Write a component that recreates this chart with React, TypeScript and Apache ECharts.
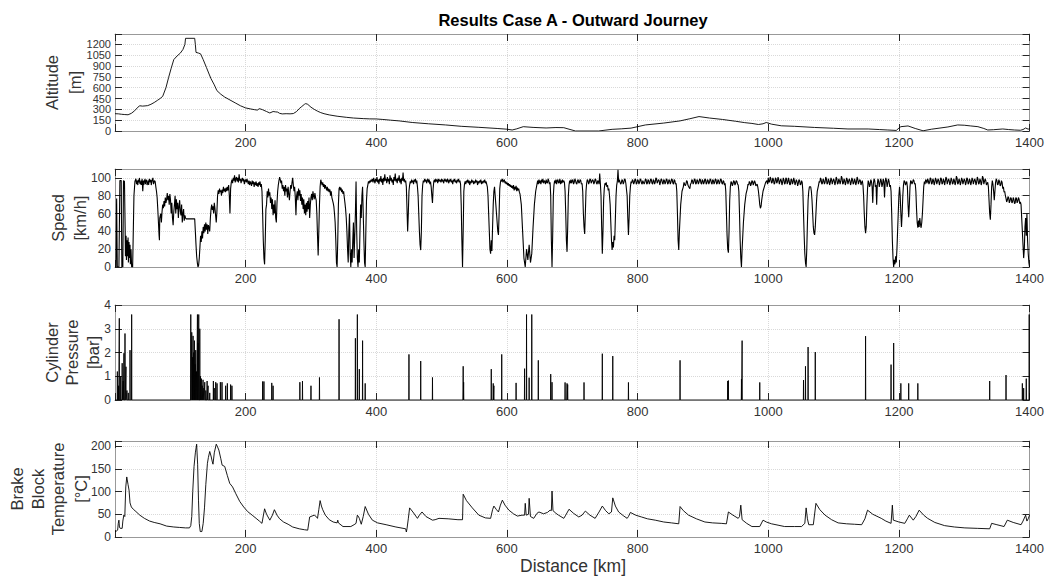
import React, { useEffect, useRef } from "react";
import * as echarts from "echarts";

const FONT = "'Liberation Sans', Arial, Helvetica, sans-serif";

const titleText = "Results Case A - Outward Journey";
const xName = "Distance [km]";
const yNames: string[][] = [
  ["Altitude", "[m]"],
  ["Speed", "[km/h]"],
  ["Cylinder", "Pressure", "[bar]"],
  ["Brake", "Block", "Temperature", "[°C]"],
];

const xMin = 0;
const xMax = 1400;
const xInterval = 200;

const yMins = [0, 0, 0, 0];
const yMaxs = [1345, 110, 4, 211];
const yIntervals = [150, 20, 1, 50];

const altitude: [number, number][] = [
  [0,240],[5,238],[10,232],[15,228],[20,225],[25,245],[30,280],[35,330],[38,350],[42,345],[46,348],[50,352],[55,370],[60,395],[65,425],[69,450],[73,480],[78,600],[82,740],[86,870],[90,990],[95,1040],[100,1080],[104,1130],[107,1200],[108,1285],[122,1285],[123,1200],[124,1090],[128,1080],[131,1070],[135,990],[140,880],[144,790],[147,725],[152,640],[156,560],[162,510],[168,470],[176,430],[184,390],[192,350],[200,320],[208,305],[214,295],[218,290],[221,310],[226,295],[232,270],[237,250],[242,270],[246,265],[249,262],[252,245],[256,237],[262,240],[268,238],[273,242],[278,270],[282,310],[286,340],[290,370],[292,380],[295,370],[300,330],[305,300],[310,275],[315,255],[320,240],[328,223],[340,205],[354,190],[365,180],[380,172],[390,168],[400,167],[410,160],[422,150],[435,140],[455,118],[480,100],[506,84],[530,65],[557,51],[585,35],[600,25],[608,14],[615,30],[625,60],[640,50],[660,42],[675,48],[687,46],[695,25],[705,0],[740,0],[761,23],[775,30],[790,40],[812,84],[840,110],[865,140],[880,170],[894,200],[910,180],[930,160],[950,135],[964,116],[975,105],[985,90],[992,100],[997,118],[1005,95],[1020,72],[1040,65],[1071,49],[1100,38],[1122,28],[1153,28],[1170,20],[1183,14],[1196,8],[1200,40],[1203,60],[1214,70],[1225,35],[1237,3],[1250,25],[1275,56],[1290,84],[1300,80],[1310,70],[1321,60],[1330,35],[1336,14],[1345,18],[1359,28],[1368,20],[1377,14],[1386,10],[1390,20],[1394,42],[1398,25],[1400,35],
];

const speed: [number, number][] = [
  [0,0],[1.5,0],[2.5,77],[3.5,0],[6,0],[7.5,97],[9.5,97],[10.5,0],[12,0],[13,97],[14.5,96],[15.5,45],[16,12],[17,35],[17.5,8],[18.5,30],[19,12],[20,33],[20.5,5],[21.5,28],[22,10],[23,25],[23.5,3],[24.5,20],[25.5,0],[27,0],[29,80],[30.5,96],
  [32,99],[33,93],[33.5,97],[35,92],[35.5,98],[36,95],[37.5,100],[38,94],[39,93],[40,97],[40.5,92],[41.5,99],[42.5,85],[43.5,97],[44,92],[44.5,95],[46,99],[46.5,93],[47,96],[48.5,98],[49,92],[50,94],[51,97],[51.5,92],[52.5,99],[54,95],[55,98],[55.5,92],[56.5,96],[58,100],[59,93],[60.5,97],[61.5,96],
  [62.5,90],[63.5,85],[64.5,78],[65.5,65],[66.5,50],[67.5,35],[68,30],[68.5,55],[70,60],[71,50],[72,62],[73,70],[74,66],[75,74],[76,68],[77,78],[78,72],[79,76],[80,83],[81,75],[82,80],[83,70],[84,82],[85,75],[86,60],[87,72],[88,55],[89,47],[90,62],[91,70],[92,80],[93,60],[94,76],[95,65],[96,72],[97,55],[98,68],[99,75],[100,62],[101,58],[102,70],[103,50],[104,60],[105,65],[106,52],[107,58],[108,55],[109,54],[122,54],
  [123,40],[124,25],[125,12],[126,5],[127,0],[128,2],[129,10],[130,22],[131,35],[132,28],[133,40],[134,32],[135,45],[136,38],[137,48],[138,40],[139,50],[140,42],[141,48],[142,37],[143,47],[144,44],[145,40],[146,55],[147,65],[148,70],[149,64],[150,68],[151,60],[152,72],[153,66],[154,58],[155,50],[156,62],[157,80],[158,86],[159,82],[160,88],[161,84],[162,86],[163,80],[164,87],[165,83],[166,90],[167,85],[168,88],[169,84],[170,89],[171,85],[172,90],[173,86],[174,92],[175,80],[176,60],[177,88],[178,95],[179,98],[180,94],[181,100],[182,97],[183,103],[184,95],[185,99],[186,101],[187,96],[188,100],[189,95],[190,104],[191,97],[192,99],[193,94],[194,98],[195,100],[196,96],[197,99],[198,93],[199,97],[200,98],[201,95],[202,99],[203,96],[204,93],[205,97],[206,92],[207,96],[208,94],[209,91],[210,97],[211,93],[212,96],[213,90],[214,95],[215,92],[216,96],[217,91],[218,94],[219,90],[220,95],[221,92],[222,96],[223,90],[224,93],
  [225,85],[226,60],[227,30],[228,10],[229,3],[230,30],[231,65],[232,70],[233,85],[234,78],[235,88],[236,80],[237,84],[238,72],[239,78],[240,65],[241,76],[242,58],[243,70],[244,60],[245,75],[246,55],[247,50],[248,72],[249,85],[250,92],[251,97],[252,101],[253,98],[254,94],[255,97],[256,88],[257,92],[258,85],[259,90],[260,80],[261,92],[262,85],[263,88],[264,78],[265,90],[266,82],[267,75],[268,85],[269,92],[270,88],[271,95],[272,100],[273,92],[274,85],[275,90],[276,78],[277,58],[278,80],[279,85],[280,75],[281,88],[282,80],[283,86],[284,74],[285,82],[286,70],[287,78],[288,65],[289,76],[290,60],[291,70],[292,58],[293,72],[294,62],[295,74],[296,65],[297,78],[298,55],[299,70],[300,78],[301,82],[302,75],[303,85],[304,80],[305,76],[306,83],[307,78],
  [308,75],[309,60],[310,35],[311,13],[312,40],[313,70],[314,90],[315,98],[316,95],[317,92],[318,95],[319,90],[320,93],[321,88],[322,92],[323,89],[324,86],[325,90],[326,85],[327,88],[328,84],[329,87],[330,80],[331,85],[332,78],
  [333,78],[334,72],[335,68],[336,60],[337,50],[338,30],[339,5],[340,0],[341,30],[342,70],[343,88],[344,90],[345,86],[346,89],[347,84],[348,87],[349,82],[350,85],[351,78],[352,72],[353,65],[354,55],[355,40],[356,20],[357,5],[358,40],[359,60],[360,15],[361,0],[362,20],[363,5],[364,30],[365,50],[366,10],[367,35],[368,60],[369,96],[370,40],[371,10],[372,0],[373,20],[374,5],[375,40],[376,70],[377,55],[378,80],[379,90],[380,60],[381,30],[382,5],[383,0],[384,40],[385,75],[386,88],[387,92],[388,96],[389,94],[390,97],[391,95],[392,98],
  [393,96],[394,99],[395,95],[396,100],[397,97],[398,94],[399,99],[400,96],[401,101],[402,95],[403,98],[404,93],[405,99],[406,96],[407,102],[408,95],[409,99],[410,92],[411,100],[412,96],[413,104],[414,97],[415,99],[416,94],[417,101],[418,96],[419,99],[420,93],[421,103],[422,97],[423,100],[424,95],[425,98],[426,92],[427,101],[428,97],[429,105],[430,96],[431,99],[432,94],[433,100],[434,97],[435,103],[436,95],[437,99],[438,93],[439,100],[440,97],[441,106],[442,96],[443,99],[444,95],[445,97],
  [446,90],[447,65],[448,40],[449,60],[450,85],[451,92],[452,96],[453,94],[454,98],[455,95],[456,97],[457,93],[458,98],[459,96],[460,99],[461,94],[462,97],[463,90],[464,80],[465,60],[466,40],[467,25],[468,19],[469,40],[470,80],[471,92],[472,97],[473,95],[474,99],[475,96],[476,98],[477,94],[478,97],[479,99],[480,95],[481,98],[482,93],[483,96],[484,90],[485,80],[486,72],[487,88],[488,96],[489,98],[490,95],[491,99],[492,96],[493,98],[494,94],[495,99],[496,96],[497,98],[498,97],[499,95],[500,99],[501,96],[502,98],[503,94],[504,97],[505,99],[506,96],[507,98],[508,95],[509,99],[510,97],[511,94],[512,98],[513,96],[514,99],[515,95],[516,97],[517,93],[518,98],[519,96],[520,99],[521,95],[522,97],[523,94],[524,98],[525,96],[526,99],[527,95],[528,97],[529,93],[530,70],[531,30],[532,0],[533,40],[534,85],[535,93],
  [536,96],[537,93],[538,97],[539,95],[540,98],[541,94],[542,97],[543,92],[544,96],[545,94],[546,98],[547,95],[548,97],[549,93],[550,96],[551,94],[552,98],[553,95],[554,97],[555,92],[556,96],[557,94],[558,97],[559,95],[560,98],[561,93],[562,96],[563,94],[564,97],[565,95],[566,98],[567,94],[568,96],[569,93],[570,90],[571,80],[572,60],[573,40],[574,20],[575,15],[576,30],[577,18],[578,45],[579,70],[580,85],[581,90],[582,80],[583,70],[584,60],[585,50],[586,40],[587,36],[588,60],[589,88],[590,95],[591,98],[592,96],[593,99],[594,95],[595,97],[596,98],[597,94],[598,96],[599,93],[600,95],[601,92],[602,94],[603,91],[604,93],[605,90],[606,92],[607,89],[608,91],[609,88],[610,92],[611,86],[612,90],[613,87],[614,91],[615,85],[616,89],[617,86],[618,88],[619,84],[620,82],
  [622,70],[624,40],[626,10],[628,0],[630,20],[632,8],[634,25],[636,5],[638,15],[640,45],[642,70],[644,85],[646,93],[647,97],[648,93],[649,98],[650,94],[651,97],[652,93],[653,98],[654,95],[655,99],[656,94],[657,97],[658,96],[659,93],[660,98],[661,95],[662,94],[663,99],[664,97],[665,93],[666,95],[667,80],[668,30],[669,0],[670,35],[671,80],[672,92],[673,97],[674,94],[675,98],[676,93],[677,97],[678,98],[679,94],[680,95],[681,99],[682,93],[683,97],[684,94],[685,98],[686,95],[687,97],[688,95],[689,85],[690,60],[691,30],[692,17],[693,45],[694,80],[695,92],[696,97],[697,94],[698,98],[699,94],[700,97],[701,98],[702,93],[703,95],[704,99],[705,97],[706,94],[707,93],[708,97],[709,98],[710,94],[711,95],[712,98],[713,97],[714,93],[715,94],[716,85],[717,60],[718,45],[719,37],[720,60],[721,85],[722,94],[723,98],[724,97],[725,93],[726,95],[727,99],[728,98],[729,94],[730,94],[731,98],[732,97],[733,93],[734,95],[735,99],[736,98],[737,94],[738,93],[739,97],[740,96],[741,93],[742,105],[743,94],[744,80],[745,45],[746,15],[747,40],[748,75],[749,88],[750,94],[751,92],[752,95],[753,90],[754,92],[755,86],[756,88],[757,80],[758,70],[759,50],[760,30],[761,19],[762,28],[763,22],[764,35],[765,30],[766,55],[767,80],[768,92],[769,96],[770,109],[771,95],[772,98],[773,98],[774,93],[775,94],[776,98],[777,97],[778,93],[779,95],[780,99],[781,98],[782,94],[783,94],[784,80],[785,55],[786,36],[787,55],[788,80],[789,90],[790,96],[791,94],[792,98],[793,97],[794,93],[795,95],[796,99],[797,98],
  [798,93],[799,94],[800,98],[801,97],[802,93],[803,95],[804,99],[805,98],[806,94],[807,93],[808,97],[809,97],[810,93],[811,95],[812,99],[813,98],[814,93],[815,94],[816,98],[817,97],[818,93],[819,95],[820,99],[821,98],[822,94],[823,93],[824,98],[825,97],[826,93],[827,95],[828,100],[829,99],[830,94],[831,94],[832,98],[833,97],[834,92],[835,95],[836,99],[837,98],[838,94],[839,93],[840,98],[841,97],[842,93],[843,95],[844,99],[845,98],[846,93],[847,94],[848,98],[849,97],[850,93],[851,95],[852,99],[853,98],[854,94],[855,93],[856,98],[857,97],[858,93],[859,94],[860,85],[861,60],[862,30],[863,19],[864,40],[866,70],[868,85],[870,90],[871,95],[872,95],[873,91],[874,93],[875,97],[876,96],[877,92],[878,92],[879,89],[880,88],[881,93],[882,94],[883,98],[884,97],[885,93],[886,95],[887,99],[888,98],[889,93],[890,94],[891,98],[892,97],[893,93],[894,95],[895,99],[896,98],[897,94],[898,93],[899,98],[900,97],[901,93],[902,95],[903,99],[904,98],[905,93],[906,94],[907,98],[908,97],[909,93],[910,95],[911,99],[912,98],[913,94],[914,93],[915,98],[916,97],[917,93],[918,95],[919,99],[920,98],[921,93],[922,94],[923,98],[924,97],[925,93],[926,95],[927,99],[928,98],[929,94],[930,93],[931,97],[932,96],[933,92],[934,94],[935,85],[936,60],[937,35],[938,20],[939,16],[940,40],[941,75],[942,90],[943,96],[944,95],[945,91],[946,93],[947,97],[948,96],[949,92],[950,94],[951,97],[952,96],[953,93],[954,92],[955,85],[956,60],[957,30],[958,10],[959,0],[960,20],[962,50],[964,70],[966,82],[968,88],[969,93],[970,92],[971,96],[972,95],[973,91],[974,93],[975,97],[976,96],[977,92],[978,94],[979,97],[980,95],[981,91],[982,92],[983,93],[984,90],[985,85],[986,78],[987,70],[988,66],[989,68],[990,75],[992,85],[994,90],[996,95],[998,97],
  [999,93],[1000,100],[1001,95],[1002,96],[1003,101],[1004,99],[1005,94],[1006,95],[1007,100],[1008,98],[1009,93],[1010,94],[1011,100],[1012,99],[1013,94],[1014,96],[1015,101],[1016,98],[1017,93],[1018,93],[1019,99],[1020,97],[1021,92],[1022,95],[1023,100],[1024,98],[1025,93],[1026,94],[1027,100],[1028,99],[1029,93],[1030,95],[1031,100],[1032,97],[1033,92],[1034,93],[1035,99],[1036,98],[1037,93],[1038,95],[1039,100],[1040,97],[1041,92],[1042,92],[1043,98],[1044,96],[1045,91],[1046,94],[1047,98],[1048,97],[1049,92],[1050,93],[1051,97],[1052,95],[1053,85],[1054,60],[1055,35],[1056,15],[1057,5],[1058,0],[1059,20],[1060,50],[1061,75],[1062,85],[1063,90],[1065,90],[1066,85],[1067,75],[1068,60],[1069,45],[1070,38],[1071,36],[1072,45],[1073,60],[1074,75],[1075,85],[1077,92],[1078,96],[1079,95],[1080,100],[1081,98],[1082,93],[1083,94],[1084,99],[1085,97],[1086,93],[1087,95],[1088,101],[1089,99],[1090,93],[1091,94],[1092,99],[1093,97],[1094,92],[1095,95],[1096,100],[1097,98],[1098,93],[1099,93],[1100,99],[1101,97],[1102,92],[1103,95],[1104,101],[1105,99],[1106,93],[1107,94],[1108,99],[1109,97],[1110,93],[1111,96],[1112,102],[1113,100],[1114,93],[1115,94],[1116,99],[1117,97],[1118,92],[1119,95],[1120,100],[1121,98],[1122,93],[1123,93],[1124,99],[1125,97],[1126,92],[1127,95],[1128,100],[1129,98],[1130,93],[1131,94],[1132,99],[1133,97],[1134,92],[1135,95],[1136,101],[1137,99],[1138,93],[1139,93],[1140,98],[1141,97],[1142,92],[1143,95],[1144,97],[1145,92],[1146,80],[1147,60],[1148,45],[1149,38],[1150,45],[1151,70],[1152,88],[1153,97],[1154,95],[1155,90],[1156,92],[1157,98],[1158,96],[1159,90],[1160,72],[1161,94],[1162,99],[1163,97],[1164,90],[1165,92],[1166,70],[1167,93],[1168,99],[1169,96],[1170,90],[1171,94],[1172,99],[1173,97],[1174,90],[1175,93],[1176,99],[1177,96],[1178,78],[1179,95],[1180,100],[1181,97],[1182,90],[1183,94],[1184,99],[1185,96],[1186,90],[1187,92],[1188,85],[1189,60],[1190,30],[1191,10],[1192,0],[1193,8],[1194,3],[1195,12],[1196,5],[1197,20],[1198,40],[1199,60],[1200,80],[1201,90],[1202,80],[1203,60],[1204,45],[1205,60],[1206,80],[1207,92],[1208,97],[1209,96],[1210,92],[1211,94],[1212,96],[1213,90],[1214,70],[1215,56],[1216,70],[1217,90],[1218,97],[1219,96],[1220,93],[1221,95],[1222,98],[1223,97],[1224,93],[1225,94],[1226,85],[1227,65],[1228,50],[1229,44],[1230,52],[1231,45],[1232,55],[1233,48],[1234,44],[1235,50],[1236,60],[1237,75],[1238,90],[1239,96],[1240,93],[1241,98],[1242,97],[1243,94],
  [1244,99],[1245,97],[1246,93],[1247,95],[1248,100],[1249,99],[1250,93],[1251,94],[1252,99],[1253,97],[1254,92],[1255,95],[1256,100],[1257,98],[1258,93],[1259,93],[1260,99],[1261,97],[1262,92],[1263,95],[1264,100],[1265,99],[1266,93],[1267,94],[1268,99],[1269,97],[1270,92],[1271,96],[1272,101],[1273,99],[1274,93],[1275,93],[1276,99],[1277,97],[1278,92],[1279,95],[1280,100],[1281,98],[1282,93],[1283,94],[1284,99],[1285,97],[1286,92],[1287,95],[1288,102],[1289,100],[1290,93],[1291,94],[1292,99],[1293,97],[1294,92],[1295,95],[1296,100],[1297,98],[1298,93],[1299,93],[1300,99],[1301,97],[1302,92],[1303,95],[1304,100],[1305,99],[1306,93],[1307,94],[1308,99],[1309,97],[1310,92],[1311,95],[1312,100],[1313,98],[1314,93],[1315,93],[1316,99],[1317,97],[1318,92],[1319,95],[1320,101],[1321,99],[1322,93],[1323,94],[1324,99],[1325,97],[1326,92],[1327,95],[1328,102],[1329,100],[1330,93],[1331,93],[1332,99],[1333,97],[1334,92],[1335,94],[1336,95],[1337,90],[1338,75],[1339,60],[1340,53],[1341,70],[1342,90],[1343,97],[1344,93],[1345,85],[1346,75],[1347,85],[1348,95],[1349,99],[1350,97],[1351,92],[1352,93],[1353,98],[1354,96],[1355,91],[1356,92],[1357,97],[1358,95],[1359,88],[1360,90],[1361,84],[1362,85],[1363,80],[1364,77],[1365,73],[1366,75],[1367,79],[1368,78],[1369,72],[1370,74],[1371,78],[1372,77],[1373,72],[1374,73],[1375,78],[1376,76],[1377,71],[1378,72],[1379,78],[1380,77],[1381,72],[1382,74],[1383,78],[1384,76],[1385,71],[1386,73],[1387,70],[1388,55],[1389,40],[1390,25],[1391,10],[1392,20],[1393,45],[1394,55],[1395,35],[1396,60],[1397,30],[1398,15],[1399,5],[1400,0],
];

const cylinderSpikes: [number, number][] = [
  [3.6,1.2],[5.5,0.6],[6.6,3.44],[8.7,1.0],[11,1.55],[12.5,0.8],[13.7,1.97],[15.3,2.8],[16.8,1.4],[18.3,0.4],[20.3,0.3],[23,2.1],[25.5,3.6],
  [116,3.6],[117.5,2.85],[118.5,1.8],[119.5,2.7],[120.5,2.0],[121.6,2.5],[122.6,1.5],[123.6,2.1],[124.8,1.2],[126.2,3.6],[127.2,2.4],[128.2,3.6],[129.8,3.0],[130.8,1.0],[132.3,0.9],[133.5,0.6],[134.8,0.85],[136,0.5],[137.4,0.75],[139,0.4],[141,0.8],[142.5,0.6],[145,0.3],[150.6,0.8],[152,0.5],[154.2,0.75],[156.2,0.7],[161.3,0.75],[163.8,0.75],[169.4,0.6],[172,0.7],[177,0.65],[179,0.6],
  [226,0.78],[228,0.78],[240,0.72],[242,0.6],[283,0.75],[287,0.8],[300,0.6],[313,0.95],[343,3.4],[368,2.6],[371,3.6],[374,1.3],[379,2.5],[383,0.7],
  [450,1.92],[468,1.64],[486,0.95],[533,1.42],[533.7,0.75],[576,1.3],[579,0.7],[580,0.6],[592,1.92],[614,0.72],[627,1.32],[630,3.6],[634,0.94],[638,3.6],[648,1.67],[667,1.09],[669,0.75],[689,0.74],[692,0.7],[693,0.65],[718,0.74],[746,1.95],[762,1.85],[786,0.74],[865,1.67],[938,0.8],[939,0.82],[959,0.88],[960,2.5],[987,0.74],[1054,0.84],[1057,1.42],[1061,2.23],[1072,2.02],[1149,2.69],[1188,1.49],[1192,2.4],[1203,0.7],[1215,0.7],[1229,0.7],[1339,0.8],[1364,1.05],[1389,0.7],[1391,0.5],[1395,0.9],[1399.5,3.6],
];

const temperature: [number, number][] = [
  [0,12],[2,13],[4,15],[5,30],[6,37],[6.8,22],[8,19],[11,19],[12,35],[13.5,48],[15,45],[16.5,110],[18,132],[20,115],[21.5,103],[23,75],[25,66],[28,61],[32,56],[38,48],[45,41],[53,35],[60,32],[69,29],[79,24],[90,22],[99,21],[108,20],[114,20],[116,25],[117.5,45],[119,100],[121,155],[123,185],[125,204],[126.5,160],[127.8,81],[129,30],[130.5,12],[133,12],[135,30],[137,64],[139,115],[141.5,162],[143,175],[145,188],[147,178],[149,165],[150,160],[152,185],[155,204],[157,198],[159,191],[162,172],[164,158],[168,155],[172,135],[175.6,118],[180,110],[185,95],[191,78],[197,66],[203,56],[210,48],[216,41],[221,35],[225,30],[229,62],[232,50],[237,37],[241,48],[244,60],[248,48],[252,40],[258,33],[265,28],[272,22],[282,18],[290,16],[295,15],[298,44],[305,48],[308,45],[310,41],[312,60],[314,80],[316,68],[318,60],[322,48],[328,38],[334,33],[340,31],[341,37],[342,31],[349,23],[361,23],[366,27],[369,30],[371,48],[373,44],[374,41],[377,28],[380,45],[383,67],[388,50],[394,37],[402,31],[415,27],[430,22],[445,18],[446,11],[447,18],[449,40],[451,64],[456,55],[463,41],[466,48],[470,55],[476,45],[486,37],[490,38],[496,41],[510,40],[525,38],[532,38],[533,94],[538,80],[547,64],[557,48],[567,42],[575,41],[578,60],[580,68],[584,60],[587,55],[590,70],[593,81],[597,70],[603,59],[610,51],[616,46],[623,48],[627,48],[628,74],[629.5,48],[633,50],[634,85],[636,45],[641,41],[646,52],[649,55],[656,51],[662,54],[666,59],[668,58],[669,101],[670.5,58],[675,52],[679,48],[687,41],[690,48],[695,61],[702,52],[710,44],[715,48],[720,57],[727,48],[735,41],[741,55],[746,68],[751,58],[756,51],[760,55],[762,86],[766,68],[771,55],[778,47],[784,41],[786,45],[789,54],[797,48],[806,44],[815,40],[827,37],[840,33],[852,31],[863,29],[865,67],[870,58],[878,48],[890,40],[903,33],[915,31],[928,30],[936,29],[939,55],[946,48],[954,41],[956,45],[958,70],[960,38],[967,30],[975,23],[987,23],[992,37],[997,33],[1005,29],[1015,26],[1025,23],[1040,23],[1051,23],[1056,30],[1058,64],[1060,40],[1062,27],[1069,27],[1073,74],[1079,60],[1087,48],[1097,38],[1107,31],[1120,29],[1132,28],[1143,27],[1148,40],[1152,59],[1160,50],[1173,41],[1180,35],[1188,30],[1190,70],[1191.5,37],[1200,33],[1209,30],[1213,40],[1216,48],[1222,37],[1226,45],[1231,59],[1238,48],[1244,41],[1255,32],[1270,25],[1285,22],[1301,20],[1320,19],[1339,18],[1342,30],[1350,27],[1361,23],[1366,37],[1375,32],[1387,27],[1390,35],[1394,48],[1396,35],[1398,40],[1400,48],
];

const GRIDS = [
  { top: 34, height: 97 },
  { top: 169, height: 98 },
  { top: 305, height: 95 },
  { top: 441, height: 96 },
];
const LEFT = 115;
const WIDTH = 916;

const nameX: number[][] = [
  [52, 75],
  [58, 80],
  [52, 72, 93],
  [17, 38, 58, 81],
];

function buildOption() {
  const cylinderLine: [number, number][] = [[0, 0]];
  [...cylinderSpikes].sort((a, b) => a[0] - b[0]).forEach(([k, h]) => {
    cylinderLine.push([k - 0.25, 0], [k, h], [k + 0.25, 0]);
  });
  cylinderLine.push([1400, 0]);
  const seriesData = [altitude, speed, cylinderLine, temperature];

  const axisLine = { show: true, onZero: false, lineStyle: { color: "#999999", width: 1 } };
  const axisTick = { show: true, inside: true, length: 7, lineStyle: { color: "#262626", width: 1 } };
  const splitLine = { show: true, lineStyle: { color: "#d9d9d9", type: "dotted", width: 1 } };

  const grid: any[] = [];
  const xAxis: any[] = [];
  const yAxis: any[] = [];
  const series: any[] = [];
  const graphic: any[] = [];

  GRIDS.forEach((g, i) => {
    grid.push({ left: LEFT, width: WIDTH, top: g.top, height: g.height, containLabel: false });
    xAxis.push({
      type: "value", gridIndex: i, min: xMin, max: xMax, interval: xInterval, position: "bottom",
      axisLine, axisTick,
      axisLabel: { show: true, margin: 5, fontSize: 13, color: "#333", fontFamily: FONT,
        formatter: (v: number) => (v === 0 ? "" : String(v)) },
      splitLine,
    });
    xAxis.push({
      type: "value", gridIndex: i, min: xMin, max: xMax, interval: xInterval, position: "top",
      axisLine, axisTick, axisLabel: { show: false }, splitLine: { show: false },
    });
    const iv = yIntervals[i];
    yAxis.push({
      type: "value", gridIndex: i, min: yMins[i], max: yMaxs[i], interval: iv, position: "left",
      axisLine, axisTick,
      axisLabel: { show: true, showMinLabel: true, margin: 4, fontSize: i === 0 ? 11 : 12,
        lineHeight: i === 0 ? 10 : 13, color: "#333", fontFamily: FONT,
        formatter: (v: number) => (Math.abs(v / iv - Math.round(v / iv)) < 1e-6 ? String(v) : "") },
      splitLine,
    });
    yAxis.push({
      type: "value", gridIndex: i, min: yMins[i], max: yMaxs[i], interval: iv, position: "right",
      axisLine, axisTick, axisLabel: { show: false }, splitLine: { show: false },
    });
    series.push({
      type: "line", xAxisIndex: i * 2, yAxisIndex: i * 2, data: seriesData[i],
      showSymbol: false, symbol: "none", silent: true, clip: true,
      lineStyle: { color: "#000", width: i === 1 ? 1.1 : 0.9 },
    });
    const cy = g.top + g.height / 2;
    yNames[i].forEach((t, j) => {
      graphic.push({
        type: "text", x: nameX[i][j], y: cy, rotation: Math.PI / 2,
        style: { text: t, fontSize: 16.5, fontFamily: FONT, fill: "#333",
          textAlign: "center", textVerticalAlign: "middle" },
      });
    });
  });

  graphic.push({
    type: "text", x: LEFT + WIDTH / 2, y: 20,
    style: { text: titleText, fontSize: 16.5, fontWeight: "bold", fontFamily: FONT, fill: "#000",
      textAlign: "center", textVerticalAlign: "middle" },
  });
  graphic.push({
    type: "text", x: LEFT + WIDTH / 2, y: 566,
    style: { text: xName, fontSize: 17.5, fontFamily: FONT, fill: "#333",
      textAlign: "center", textVerticalAlign: "middle" },
  });

  return {
    animation: false,
    backgroundColor: "#fff",
    textStyle: { fontFamily: FONT },
    grid, xAxis, yAxis, series, graphic,
  };
}

export default function App() {
  const ref = useRef<HTMLDivElement>(null);
  useEffect(() => {
    if (!ref.current) return;
    const chart = echarts.init(ref.current, undefined, { renderer: "svg" });
    chart.setOption(buildOption() as any);
    return () => chart.dispose();
  }, []);
  return (
    <div
      ref={ref}
      style={{ position: "fixed", left: 0, top: 0, width: 1047, height: 579, background: "#fff" }}
    />
  );
}
